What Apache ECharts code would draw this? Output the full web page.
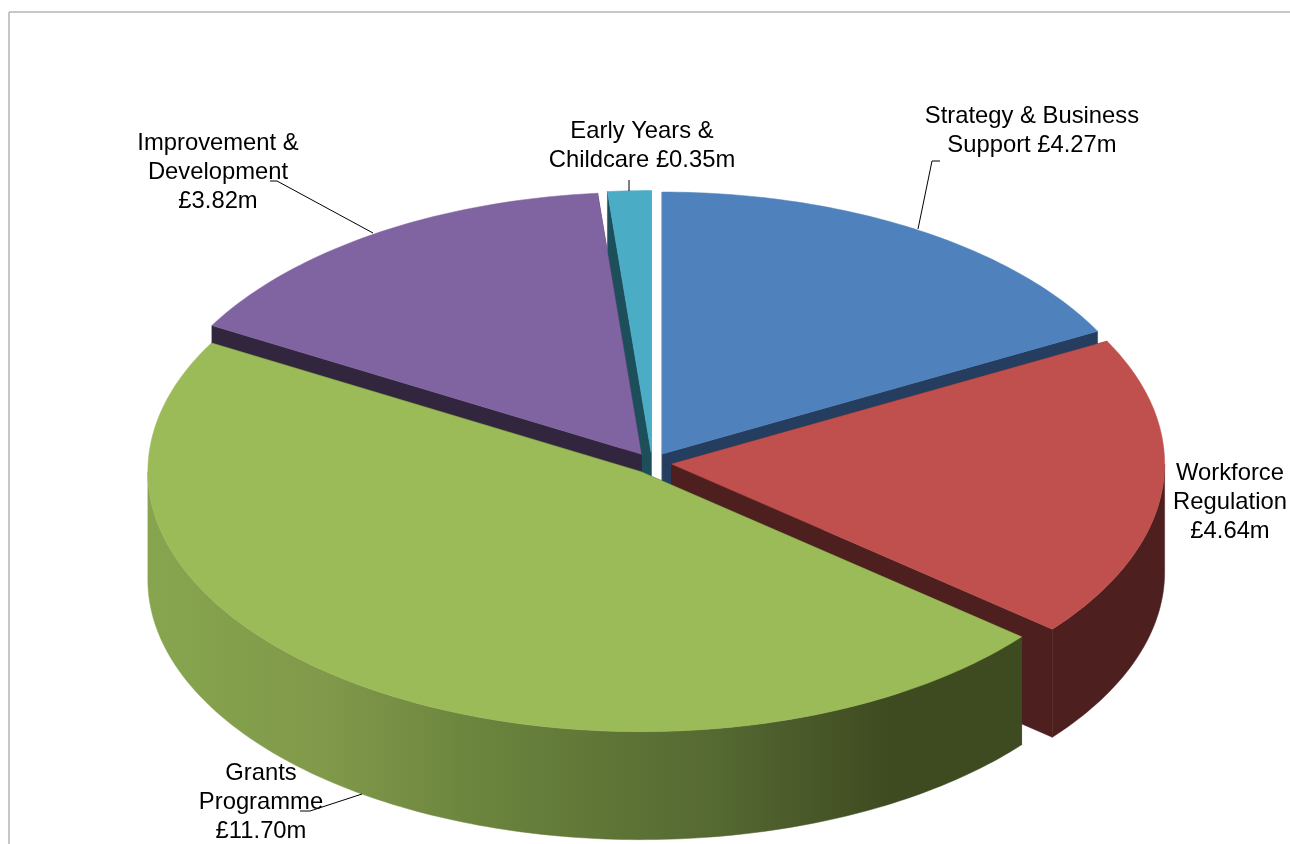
<!DOCTYPE html>
<html>
<head>
<meta charset="utf-8">
<style>html,body{margin:0;padding:0;background:#fff}#chart{width:1290px;height:844px}</style>
<script src="https://cdn.jsdelivr.net/npm/echarts@6/dist/echarts.min.js"></script>
</head>
<body>
<div id="chart"></div>
<script>
// Budget split, in £ million, clockwise from twelve o'clock
const categories = ['Strategy & Business', 'Workforce Regulation', 'Grants Programme', 'Improvement & Development', 'Early Years & Childcare'];
const budgets = [4.27, 4.64, 11.70, 3.82, 0.35];
const labelLines = [
  ['Strategy & Business', 'Support {v}'],
  ['Workforce', 'Regulation', '{v}'],
  ['Grants', 'Programme', '{v}'],
  ['Improvement &', 'Development', '{v}'],
  ['Early Years &', 'Childcare {v}']
];

// Appearance of the extruded disc; the near half is drawn very slightly flatter
const topColors = ['#4F81BD', '#C0504D', '#9BBB59', '#8064A2', '#4BACC6'];
const wallColors = ['#253D5E', '#4D1F1E', '#3E4A20', '#32263F', '#1D4F5B'];
const disc = { cx: 652, cy: 463, rx: 493, ryFar: 262, ryNear: 260, depth: 108, explode: 0.04 };
const labelCenters = [[1032, 131], [1230, 502.5], [261, 802], [218, 172], [642, 146]];
const leaders = [
  [[918, 229], [932, 161], [940, 161]],
  null,
  [[300, 811], [310, 811], [362, 794]],
  [[270, 181], [277, 181], [373, 233]],
  [[629, 180], [629, 191]]
];

const total = budgets.reduce((a, b) => a + b, 0);
const startFractions = budgets.map((_, i) => budgets.slice(0, i).reduce((a, b) => a + b, 0) / total);

const grantsSideFill = new echarts.graphic.LinearGradient(147, 0, 1022, 0, [
  { offset: 0, color: '#87A54E' },
  { offset: 0.2, color: '#80994A' },
  { offset: 0.4, color: '#69823C' },
  { offset: 0.65, color: '#556932' },
  { offset: 0.85, color: '#3E4A20' },
  { offset: 1, color: '#3E4A20' }
], true);

function renderSlice(params, api) {
  const i = params.dataIndex;
  const value = api.value(0);
  const a0 = startFractions[i] * 2 * Math.PI;
  const a1 = a0 + value / total * 2 * Math.PI;
  const mid = (a0 + a1) / 2;
  const cx = disc.cx + disc.explode * disc.rx * Math.sin(mid);
  const cy = disc.cy - disc.explode * disc.ryFar * Math.cos(mid);
  const at = (a, drop) => {
    const c = Math.cos(a);
    const ry = c > 0 ? disc.ryFar : disc.ryNear;
    return [cx + disc.rx * Math.sin(a), cy - ry * c + (drop || 0)];
  };
  const arc = (from, to, drop) => {
    const n = Math.max(2, Math.ceil(Math.abs(to - from) * 180 / Math.PI));
    const pts = [];
    for (let k = 0; k <= n; k++) pts.push(at(from + (to - from) * k / n, drop));
    return pts;
  };
  const wallFill = i === 2 ? grantsSideFill : wallColors[i];
  const order = Math.round(cy * 10);
  const poly = (points, fill, bump) => ({
    type: 'polygon', z2: order + bump, shape: { points }, style: { fill, stroke: fill, lineWidth: 0.5 }
  });
  const children = [];

  // Cut faces along the two radial edges
  const cutFace = a => [[cx, cy], at(a), at(a, disc.depth), [cx, cy + disc.depth]];
  children.push(poly(cutFace(a0), wallColors[i], 0));
  children.push(poly(cutFace(a1), wallColors[i], 0));

  // Rim: only the part of the arc on the near half of the disc shows
  const lo = Math.max(a0, Math.PI / 2);
  const hi = Math.min(a1, 3 * Math.PI / 2);
  if (hi > lo) {
    children.push(poly(arc(lo, hi, 0).concat(arc(hi, lo, disc.depth)), wallFill, 1));
  }

  // Top face
  children.push(poly([[cx, cy]].concat(arc(a0, a1, 0)), topColors[i], 2));

  // Label and leader stay above every slice
  const text = labelLines[i].join('\n').replace('{v}', '£' + value.toFixed(2) + 'm');
  if (leaders[i]) {
    children.push({
      type: 'polyline', z2: 100000, shape: { points: leaders[i] },
      style: { fill: null, stroke: '#000', lineWidth: 1 }
    });
  }
  children.push({
    type: 'text', z2: 100001, x: labelCenters[i][0], y: labelCenters[i][1],
    style: {
      text, fill: '#000', align: 'center', verticalAlign: 'middle',
      font: '23.8px "Liberation Sans", Arial, sans-serif', lineHeight: 29
    }
  });
  return { type: 'group', children };
}

const chart = echarts.init(document.getElementById('chart'), null, { renderer: 'canvas' });
chart.setOption({
  animation: false,
  backgroundColor: '#fff',
  graphic: [
    { type: 'line', shape: { x1: 9, y1: 12, x2: 1290, y2: 12 }, style: { stroke: '#b4b4b4', lineWidth: 1.5 } },
    { type: 'line', shape: { x1: 9, y1: 12, x2: 9, y2: 844 }, style: { stroke: '#b4b4b4', lineWidth: 1.5 } }
  ],
  series: [{
    type: 'custom',
    coordinateSystem: 'none',
    renderItem: renderSlice,
    data: categories.map((name, i) => ({ name, value: [budgets[i]] })),
    clip: false
  }]
});
</script>
</body>
</html>
